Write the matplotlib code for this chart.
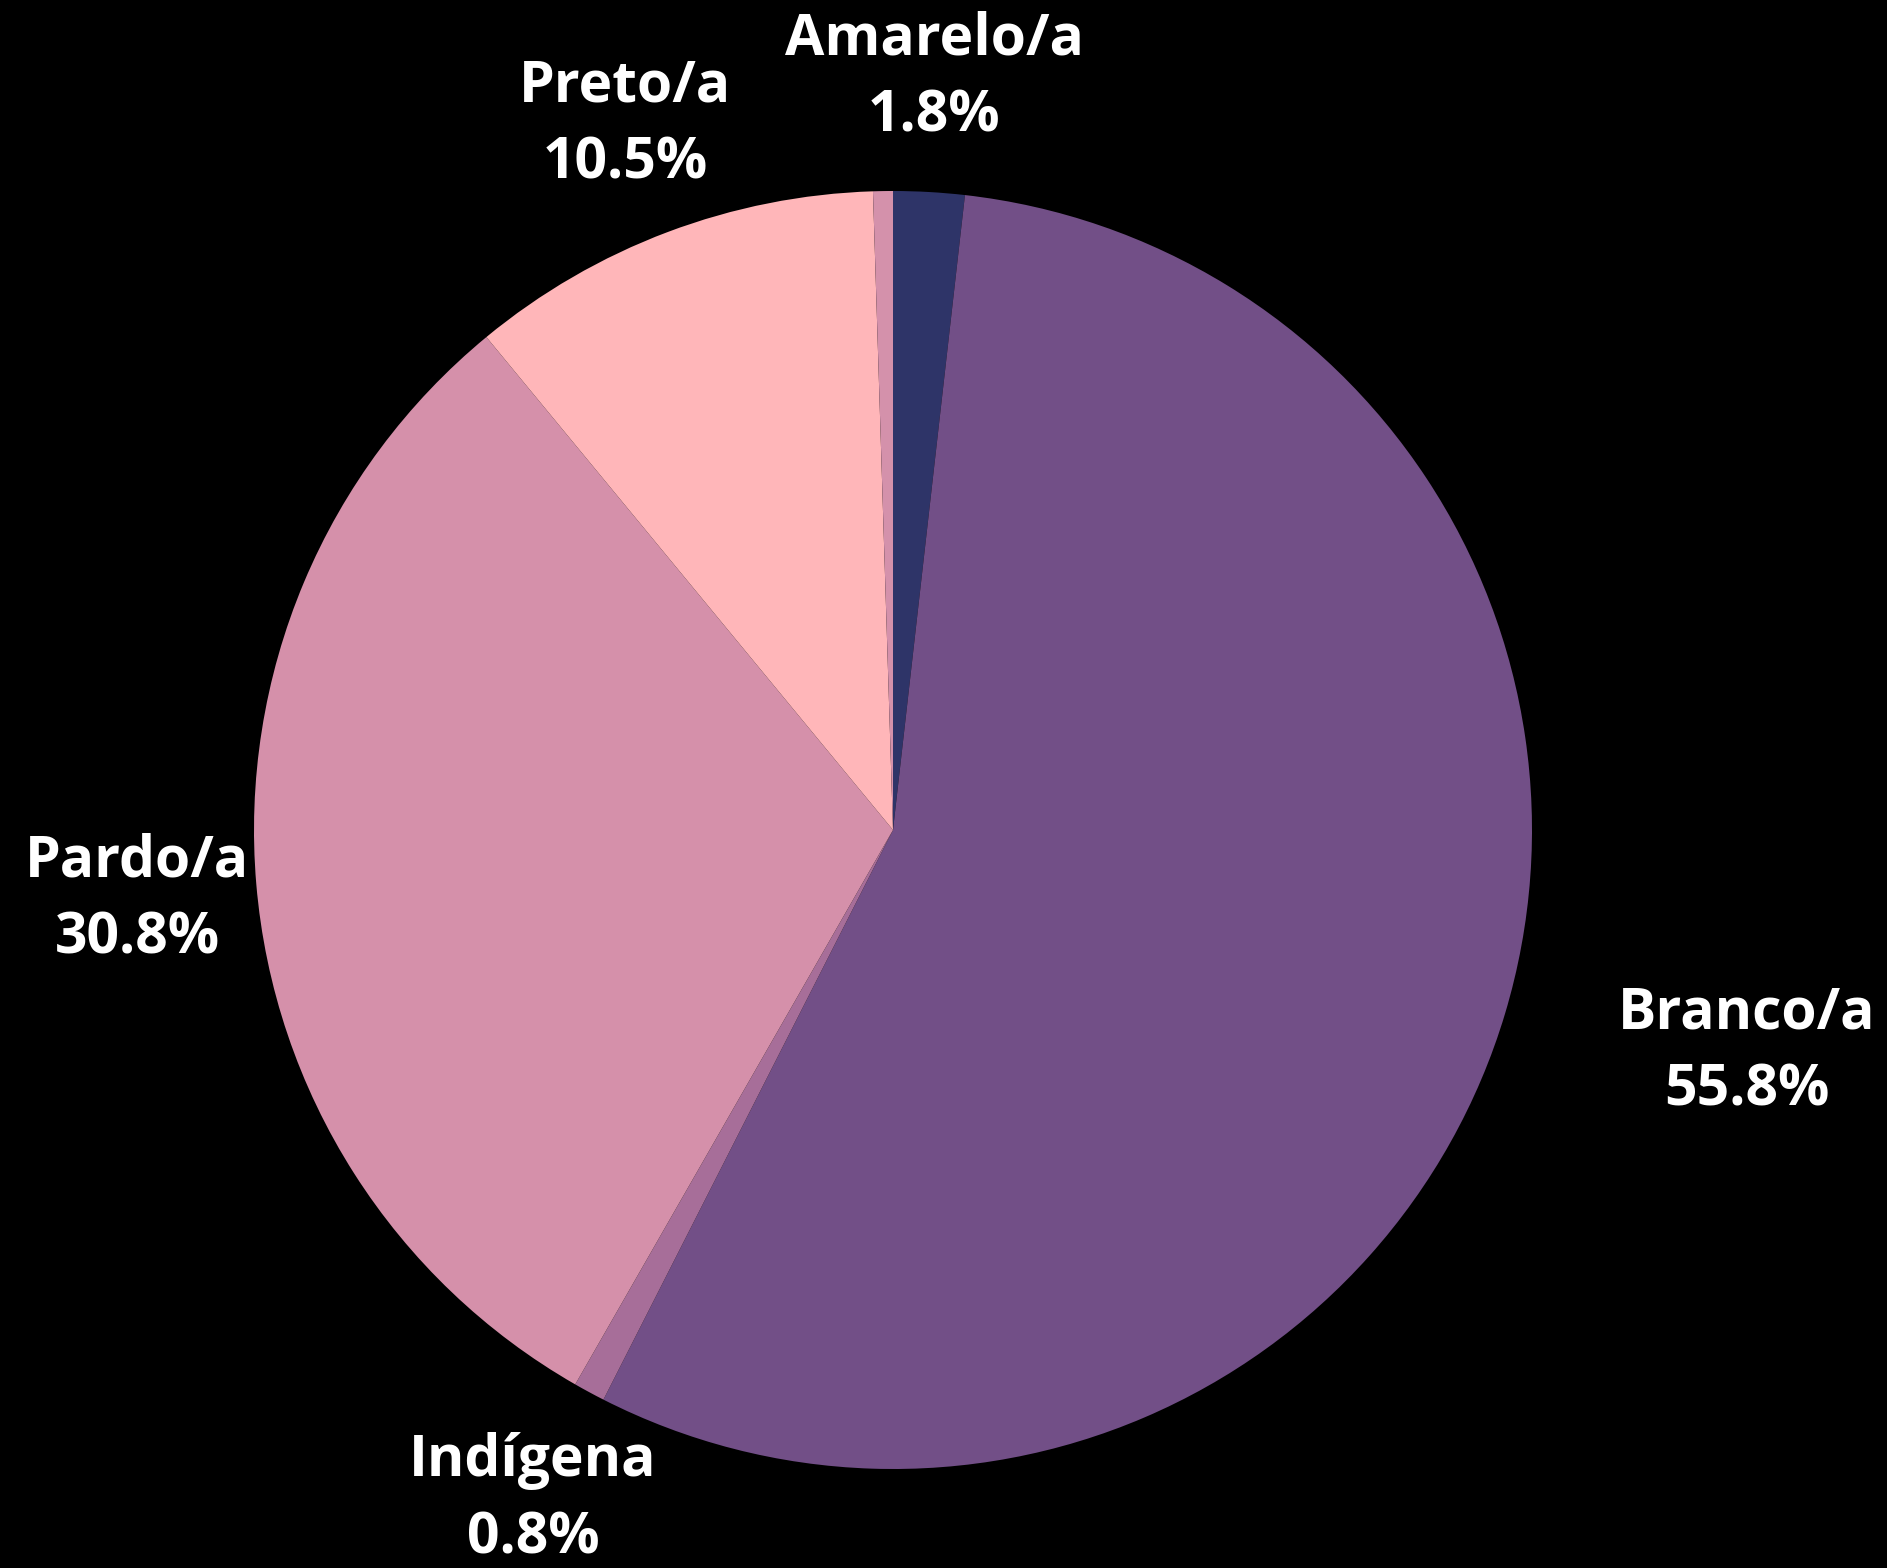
import matplotlib.pyplot as plt

categories = ["Amarelo/a", "Branco/a", "Indígena", "Pardo/a", "Preto/a", ""]
values = [1.8, 55.8, 0.8, 30.8, 10.5, 0.5]
colors = ["#2e3468", "#724f87", "#a76e99", "#d590aa", "#ffb6b9", "#d491ab"]

# label centres in figure pixels (x from left, y from top)
label_pos = {
    "Amarelo/a": (934, 78),
    "Branco/a": (1747, 1052),
    "Indígena": (533, 1500),
    "Pardo/a": (137, 900),
    "Preto/a": (625, 125),
}

W, H = 1887, 1568
fig = plt.figure(figsize=(W / 100, H / 100), dpi=100, facecolor="black")

cx, cy, r = 893, 830, 639
ax = fig.add_axes([(cx - r) / W, (H - cy - r) / H, 2 * r / W, 2 * r / H])
ax.set_facecolor("black")
ax.pie(values, colors=colors, startangle=90, counterclock=False,
       wedgeprops=dict(linewidth=0), radius=1)
ax.set_xlim(-1, 1)
ax.set_ylim(-1, 1)
ax.axis("off")

for name, v in zip(categories, values):
    if not name:
        continue
    x, y = label_pos[name]
    fig.text(x / W, 1 - y / H, "%s\n%.1f%%" % (name, v),
             ha="center", va="center", color="white",
             fontsize=41, fontweight="bold", family=["Open Sans", "DejaVu Sans"],
             linespacing=1.45)

fig.savefig("out.png", dpi=100, facecolor="black")
